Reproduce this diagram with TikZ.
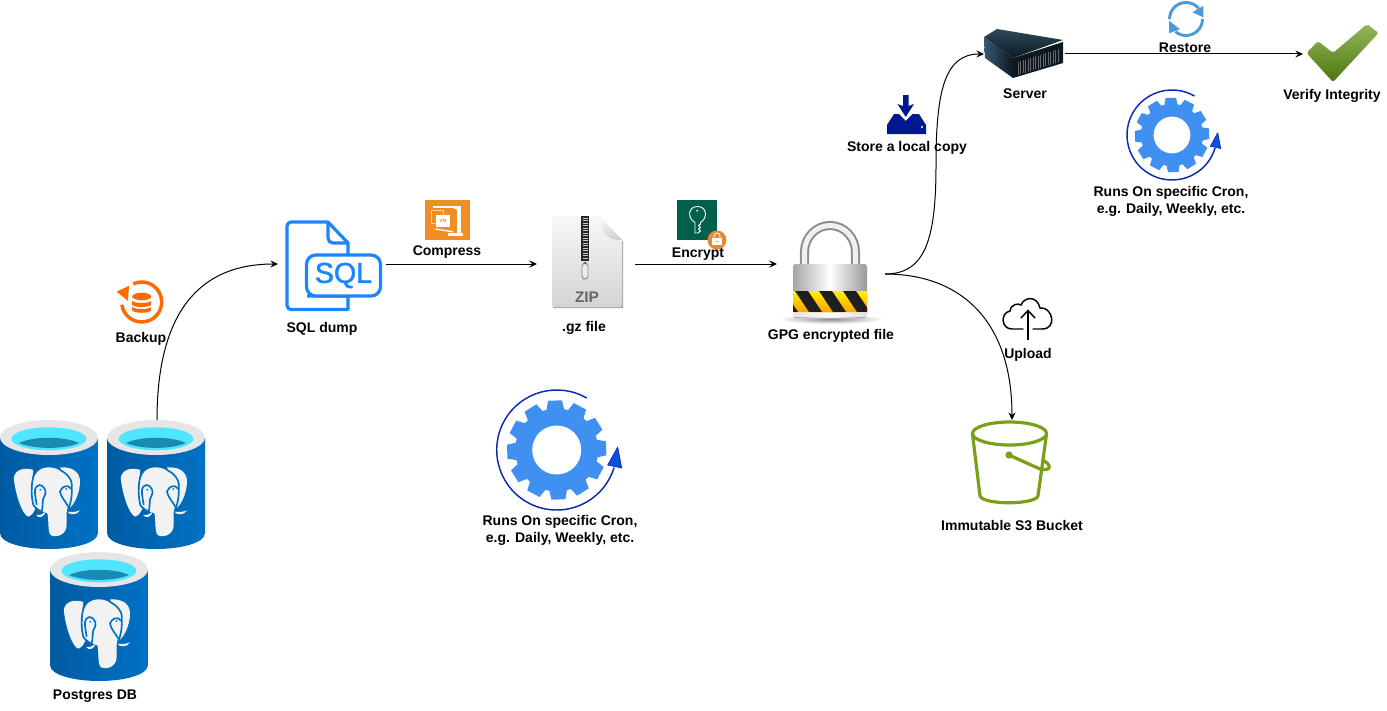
\documentclass[tikz,border=0pt]{standalone}
\usepackage{fontspec}
\setmainfont{Liberation Sans}
\newfontfamily\sqlfont[FakeBold=1.6]{Liberation Sans}
\usepackage{xcolor}
\usepackage{tikz}
\usetikzlibrary{arrows.meta,positioning,calc}
\definecolor{cylblue}{HTML}{0072C6}
\definecolor{cyldark}{HTML}{005BA1}
\definecolor{cylrim}{HTML}{E6E6E6}
\definecolor{cylwater}{HTML}{50E6FF}
\definecolor{cylteal}{HTML}{198AB3}
\definecolor{sqlblue}{HTML}{1A85FF}
\definecolor{vmorange}{HTML}{F08E23}
\definecolor{keyteal}{HTML}{015F4B}
\definecolor{lockorange}{HTML}{E58A3C}
\definecolor{bkorange}{HTML}{FF6A00}
\definecolor{gearblue}{HTML}{3F90F0}
\definecolor{ringblue}{HTML}{0A2BB0}
\definecolor{tipblue}{HTML}{0B4EE0}
\definecolor{restblue}{HTML}{4A9BD9}
\definecolor{copynavy}{HTML}{00188F}
\definecolor{bucketgreen}{HTML}{7AA116}
\definecolor{chkhigh}{HTML}{94B85A}
\definecolor{chklow}{HTML}{4C7510}
\definecolor{srvtop}{HTML}{2C4A5C}
\definecolor{srvdark}{HTML}{0D1820}
\definecolor{srvside}{HTML}{3A5A70}
\tikzset{
  lbl/.style={font=\bfseries\fontsize{10.5}{12.75}\selectfont,align=center,inner sep=0pt,yshift=-0.6pt},
  iconbox/.style={inner sep=0pt,outer sep=0pt,minimum width=#1},
  link/.style={-{Stealth[length=5.6pt,width=5.2pt]},line width=0.75pt},
  pgcyl/.pic={
    \shade[left color=cyldark,right color=cylblue] (-49,-47) -- (-49,48) .. controls (-49,58) and (-25,64) .. (0,64) .. controls (25,64) and (49,58) .. (49,48) -- (49,-47) -- cycle;
    \fill[cylrim] (0,-47.5) ellipse (49 and 17.5);
    \fill[cylwater] (0,-46.2) ellipse (37.5 and 11.5);
    \fill[cylteal] (-30,-42) .. controls (-15,-49) and (15,-49) .. (30,-42) .. controls (15,-35.5) and (-15,-35.5) .. (-30,-42) -- cycle;
    \begin{scope}[scale=1/3]
      \fill[black!5] (-47,-45) .. controls (-90,-60) and (-110,-30) .. (-105,-15) .. controls (-100,30) and (-80,90) .. (-62,95) .. controls (-50,90) and (-45,80) .. (-40,70) -- (-52,-5) -- cycle;
      \fill[black!5] (33,-53) .. controls (70,-55) and (95,-40) .. (93,-5) .. controls (90,30) and (75,60) .. (60,70) -- (50,-20) -- cycle;
      \fill[black!5] (-50,-5) .. controls (-45,-40) and (-25,-53) .. (0,-53) .. controls (30,-53) and (55,-30) .. (68,0) -- (62,55) .. controls (50,75) and (53,85) .. (53,120) .. controls (53,150) and (20,160) .. (5,150) .. controls (-5,140) and (0,100) .. (-5,85) -- (-22,78) -- (-47,60) -- cycle;
      \draw[cylblue,line width=1.25pt] (-37,-42) .. controls (-55,-25) and (-55,30) .. (-47,60) .. controls (-40,70) and (-30,78) .. (-22,80);
      \draw[cylblue,line width=1.25pt] (-22,80) .. controls (-18,65) and (-20,50) .. (-17,40) .. controls (-10,28) and (-8,18) .. (-14,10) .. controls (-20,-3) and (-38,-5) .. (-42,15) .. controls (-43,30) and (-38,50) .. (-37,60);
      \draw[cylblue,line width=1.25pt] (33,-45) .. controls (55,-35) and (68,-15) .. (68,-5) .. controls (70,20) and (68,45) .. (60,68);
      \draw[cylblue,line width=1.25pt] (60,68) .. controls (50,50) and (35,35) .. (33,20) .. controls (38,5) and (55,-5) .. (66,12);
      \fill[cylblue] (-26,14) circle (3) (52,12) circle (3);
      \fill[black!5] (-39,90) .. controls (-25,92) and (-15,85) .. (-10,78) .. controls (-12,95) and (-30,103) .. (-39,90) -- cycle;
      \fill[black!5] (58,80) .. controls (70,82) and (85,80) .. (93,76) .. controls (85,90) and (68,90) .. (58,84) -- cycle;
    \end{scope}
  },
  cronwheel/.pic={
    \fill[gearblue] (0,0) circle (41.5);
    \foreach \a in {0,30,...,330} {
      \fill[gearblue,rotate=\a+2] (-9,-39) -- (-7,-49.5) -- (7,-49.5) -- (9,-39) -- cycle;
    }
    \fill[white] (0,0) circle (24.5);
    \draw[ringblue,line width=1.1pt] (0,0) ++(-60:60) arc (-60:-343:60);
    \draw[ringblue,fill=tipblue,line width=.5pt,line join=round] (61,-3) -- (51,15) -- (65,18) -- cycle;
  }
}
\begin{document}
\begin{tikzpicture}[x=0.75pt,y=-0.75pt]
\useasboundingbox (0,0) rectangle (1387,710);

% anchors of the icons
\node[iconbox=81pt,minimum height=75pt] (sqlfile) at (332,264) {};
\node[iconbox=73.5pt,minimum height=70pt] (zipfile) at (586,264) {};
\node[iconbox=81pt,minimum height=75pt] (lockfile) at (831,274) {};
\node[iconbox=60.75pt,minimum height=36pt] (server) at (1024.5,54) {};
\node[iconbox=58.5pt,minimum height=45pt] (verify) at (1342,54) {};
\node[iconbox=56pt,minimum height=63pt] (bucket) at (1012,462) {};
\node[iconbox=73.5pt,minimum height=97.5pt] (dbtwo) at (157,485) {};

% postgres
\pic at (49,485) {pgcyl};
\pic at (156,485) {pgcyl};
\pic at (99,617) {pgcyl};

% backup
\draw[bkorange,line width=2.6pt] (141.7,302) ++(-115:20) arc (-115:172:20);
\fill[bkorange] (116.7,291.7) -- (129,285.7) -- (128,301) -- cycle;
\fill[bkorange] (141.7,296.5) ellipse (9.5 and 3.8);
\fill[bkorange] (132.2,300.5) arc (180:0:9.5 and 2.5) -- (151.2,304.5) arc (0:180:9.5 and 2.5) -- cycle;
\fill[bkorange] (132.2,306.5) arc (180:0:9.5 and 2.5) -- (151.2,310) arc (0:180:9.5 and 2.8) -- cycle;

% sql file
\draw[sqlblue,line width=2.4pt,line join=round] (307,296) -- (348,296) -- (348,309.5) -- (291,309.5) arc (90:180:4) -- (287,226) arc (180:270:4) -- (328,222) -- (348,243) -- (348,254);
\draw[sqlblue,line width=2.4pt,line join=round] (328,222) -- (328,238) arc (180:90:5) -- (348,243);
\draw[sqlblue,fill=white,line width=2.4pt,rounded corners=7pt] (306.5,255) rectangle (380.5,296);
\node[text=sqlblue,font=\sqlfont\fontsize{21.5}{24}\selectfont,inner sep=0pt] (sqlword) at (343.5,275.5) {SQL};

% compress
\fill[vmorange] (425,200) rectangle (470,240);
\draw[white,opacity=.6,line width=.7pt] (431,210) rectangle (443,223);
\fill[white] (436,215) rectangle (450,227);
\node[text=vmorange,font=\bfseries\fontsize{3.5}{4}\selectfont,inner sep=0pt] (vmword) at (443,221) {VM};
\fill[white] (432.7,205.7) rectangle (460,208.3);
\fill[white] (451,207) -- (457,207) -- (457,210) -- cycle;
\fill[white] (456.7,205.7) rectangle (460.7,233);
\fill[white] (448,233.3) rectangle (462.7,235.7);
\fill[white] (435,228.5) -- (453,231) -- (453,232.5) -- (435,229.5) -- cycle;

% zip file
\fill[black!35] (553,232) -- (553,308) -- (623,308) -- (623,241) -- cycle;
\shade[top color=black!3,bottom color=black!17] (552,218) arc (180:270:2) -- (600,216) -- (622,240) -- (622,305) arc (0:90:2) -- (554,307) arc (90:180:2) -- cycle;
\shade[top color=white,bottom color=black!20] (600,216) .. controls (601,232) and (606,240) .. (622,240) -- cycle;
\fill[black!85] (581,216) rectangle (589,261);
\foreach \y in {218,220.5,...,260} {
  \draw[white!80!black,line width=.5pt] (582.5,\y) -- (587.5,\y);
}
\draw[black!45,fill=black!8,line width=.7pt,rounded corners=2.5pt] (582,263) rectangle (588,279);
\fill[black!60] (585,263) circle (1.5);
\node[text=black!60,font=\bfseries\fontsize{11.5}{12}\selectfont,inner sep=0pt] (zipword) at (587,297.5) {ZIP};

% encrypt
\fill[keyteal] (677,200) rectangle (717,240);
\draw[white,line width=.7pt] (695,222.5) .. controls (687,218) and (688,206.5) .. (697.5,206.5) .. controls (707,206.5) and (708,218) .. (700.5,222.5) -- (700.5,224) -- (698.5,225.5) -- (700.5,227.5) -- (698.5,229) -- (700.5,231) -- (698,233) -- (695,233) -- cycle;
\fill[white] (697.3,210.7) circle (1.1);
\fill[lockorange] (717,240) circle (9.5);
\draw[white,line width=.6pt] (714,238) -- (714,236) arc (180:360:3) -- (720,238);
\fill[white] (712,238) rectangle (722,245);
\fill[lockorange] (716,241) rectangle (718,242.2);

% lock
\shade[inner color=black!45,outer color=white] (831,319) ellipse (52 and 5);
\draw[black!45,line width=6.8pt] (804.5,266) -- (804.5,252) arc (180:360:25.5 and 26.5) -- (855.5,266);
\draw[black!6,line width=3.8pt] (804.5,266) -- (804.5,252) arc (180:360:25.5 and 26.5) -- (855.5,266);
\shade[left color=black!35,right color=black!40,middle color=white,rounded corners=2pt] (793,264) rectangle (867,318);
\shade[top color=yellow!90!orange,bottom color=orange!75!yellow] (793,291) rectangle (867,312);
\begin{scope}
\clip (793,291) rectangle (867,312);
\foreach \x in {771,795,...,867} {
  \fill[black!88] (\x,291) -- (\x+13,291) -- (\x+27,312) -- (\x+14,312) -- cycle;
}
\end{scope}
\fill[white,opacity=.7] (793,312) rectangle (867,317);

% server
\shade[top color=srvtop,bottom color=srvdark] (984,37) -- (997,29) -- (1063,40) -- (1013,58) -- cycle;
\shade[left color=srvside,right color=srvdark] (984,37) -- (1013,58) -- (1013,78) -- (985,58) -- cycle;
\fill[srvdark] (1013,58) -- (1063,42) -- (1063,63) -- (1013,78) -- cycle;
\foreach \n in {0,2.5,...,42} {
  \draw[black!60,line width=.6pt] (1018+\n,62-.32*\n) -- (1018+\n,75-.32*\n);
}

% restore
\draw[restblue,line width=2.2pt] (1186,19) ++(180:16.5) arc (180:320:16.5);
\fill[restblue] (1192.3,12.3) -- (1203.3,6) -- (1203.3,17.3) -- cycle;
\draw[restblue,line width=2.2pt] (1186,19) ++(0:16.5) arc (0:130:16.5);
\fill[restblue] (1169,20.7) -- (1180,29.3) -- (1169,33.3) -- cycle;

% check mark
\shade[top color=chkhigh,bottom color=chklow,rounded corners=1.5pt] (1306.5,53) -- (1333,82) -- (1378.5,33) -- (1367,24) -- (1333,53) -- (1318,41) -- cycle;

% store a copy
\fill[copynavy] (903,95) rectangle (908.5,106) -- (914,104) -- (905.7,117) -- (897.5,104) -- (903,106) -- cycle;
\fill[copynavy] (894,114) -- (899,114) -- (905.7,121) -- (912.5,114) -- (919,114) -- (926,125) -- (926,134) -- (887,134) -- (887,125) -- cycle;
\fill[white] (922,127) circle (1.1);

% upload
\draw[black,line width=1.1pt,line cap=round] (1023,329) -- (1012,329) .. controls (1001,329) and (1000,313) .. (1010,311) .. controls (1011,304) and (1018,303) .. (1021,305) .. controls (1024,297) and (1037,295) .. (1040,308) .. controls (1052,306) and (1058,329) .. (1042,329) -- (1033,329);
\draw[black,line width=1.1pt] (1028,340) -- (1028,311);
\draw[black,line width=1.1pt] (1021,318) -- (1028,310.5) -- (1035,318);

% bucket
\draw[bucketgreen,line width=2.4pt,line join=round] (1009.5,433.5) ellipse (37 and 11.5);
\draw[bucketgreen,line width=2.4pt,line join=round] (972.5,434) -- (980,496) .. controls (983,505) and (1035,505) .. (1038,496) -- (1046.5,434);
\fill[bucketgreen] (1009,455) circle (3.6);
\draw[bucketgreen,line width=2.4pt] (1009,455) -- (1040,469) .. controls (1052,472) and (1052,464) .. (1042,460);

% cron
\pic at (556.7,450) {cronwheel};
\pic[scale=.75] at (1172,135) {cronwheel};

% labels
\node[lbl] (backuplbl) at (141,338) {Backup};
\node[lbl] (sqllbl) at (322,328) {SQL dump};
\node[lbl] (compresslbl) at (447,251) {Compress};
\node[lbl] (gzlbl) at (584,327) {.gz file};
\node[lbl] (encryptlbl) at (698,253) {Encrypt};
\node[lbl] (gpglbl) at (831,335) {GPG encrypted file};
\node[lbl] (storelbl) at (907,147) {Store a local copy};
\node[lbl] (serverlbl) at (1025,93) {Server};
\node[lbl] (restorelbl) at (1185,47) {Restore};
\node[lbl] (verifylbl) at (1332,95) {Verify Integrity};
\node[lbl] (uploadlbl) at (1028,354) {Upload};
\node[lbl] (s3lbl) at (1012,525) {Immutable S3 Bucket};
\node[lbl] (dblbl) at (95,695) {Postgres DB};
\node[lbl] (cronlblone) at (560,530) {Runs On specific Cron,\\e.g. Daily, Weekly, etc.};
\node[lbl] (cronlbltwo) at (1171,200.5) {Runs On specific Cron,\\e.g. Daily, Weekly, etc.};

% connectors
\draw[link] (dbtwo.north) .. controls (157,325) and (190,264) .. (sqlfile.west);
\draw[link] (sqlfile.east) -- (zipfile.west);
\draw[link] (zipfile.east) -- (zipfile.east -| lockfile.west);
\draw[link] (lockfile.east) .. controls (925,274) and (936,240) .. (936,165) .. controls (936,90) and (945,54) .. (server.west);
\draw[link] (lockfile.east) .. controls (960,274) and (1012,320) .. (bucket.north);
\draw[link] (server.east) -- (verify.west);
\end{tikzpicture}
\end{document}
